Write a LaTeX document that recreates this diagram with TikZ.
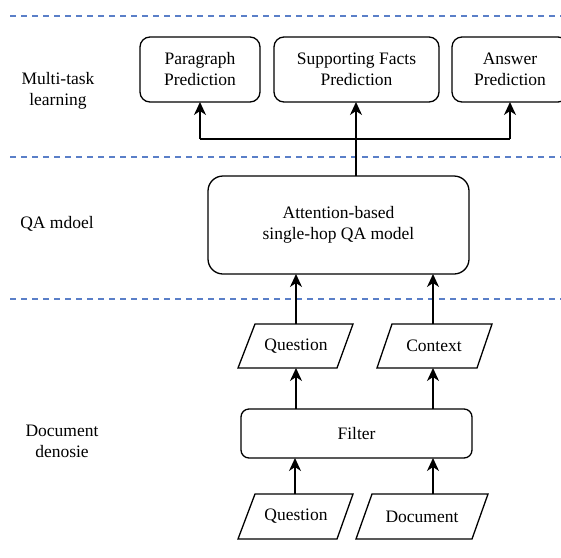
\documentclass[tikz,border=0pt]{standalone}
\usepackage{fontspec}
\setmainfont{Liberation Serif}
\usetikzlibrary{arrows.meta}
\definecolor{sepblue}{HTML}{5A7FC8}
\begin{document}
\begin{tikzpicture}[x=1pt,y=-1pt,
  every node/.style={font=\fontsize{17.5}{21}\selectfont, align=center, inner sep=0pt},
  sep/.style={draw=sepblue, line width=1.4pt, dash pattern=on 6pt off 5pt},
  rbox/.style={draw, line width=1.3pt, rounded corners=#1},
  para/.style={draw, line width=1.3pt},
  conn/.style={line width=1.5pt, -{Stealth[length=13pt,width=12pt,inset=4pt]}},
  wire/.style={line width=1.5pt}]
\useasboundingbox (0,0) rectangle (561,557);
\clip (0,0) rectangle (561,557);
% separators
\coordinate (s1a) at (10,16);  \coordinate (s1b) at (561,16);
\coordinate (s2a) at (10,157); \coordinate (s2b) at (561,157);
\coordinate (s3a) at (10,299); \coordinate (s3b) at (561,299);
\draw[sep] (s1a) -- (s1b);
\draw[sep] (s2a) -- (s2b);
\draw[sep] (s3a) -- (s3b);
% layer labels
\node (lab1) at (58,91) {Multi-task\\learning};
\node (lab2) at (57,224) {QA mdoel};
\node (lab3) at (62,441) {Document\\denosie};
% top boxes
\draw[rbox=10pt] (140,37) rectangle (260,102);
\node (pp) at (200,69.5) {Paragraph\\Prediction};
\draw[rbox=10pt] (274,37) rectangle (439,102);
\node (sf) at (356.5,69.5) {Supporting Facts\\Prediction};
\draw[rbox=10pt] (452,37) rectangle (568,102);
\node (ap) at (510,69.5) {Answer\\Prediction};
\coordinate (ppb) at (200,102);
\coordinate (sfb) at (356,102);
\coordinate (apb) at (510,102);
\coordinate (jl) at (200,139);
\coordinate (jm) at (356,139);
\coordinate (jr) at (510,139);
% QA box
\draw[rbox=15pt] (208,176) rectangle (469,274);
\node (qa) at (338.5,225) {Attention-based\\single-hop QA model};
\coordinate (qat) at (356,176);
\coordinate (qab1) at (296,274);
\coordinate (qab2) at (433,274);
% Question / Context
\draw[para] (238,368) -- (255,324) -- (353,324) -- (337,368) -- cycle;
\node (q1) at (296,346) {Question};
\coordinate (q1t) at (296,324);
\coordinate (q1b) at (296,368);
\draw[para] (377,368) -- (392,324) -- (492,324) -- (477,368) -- cycle;
\node (ctx) at (434,346) {Context};
\coordinate (ctxt) at (433,324);
\coordinate (ctxb) at (433,368);
% Filter
\draw[rbox=8pt] (241,409) rectangle (472,458);
\node (flt) at (356.5,433.5) {Filter};
\coordinate (ft1) at (296,409);
\coordinate (ft2) at (433,409);
\coordinate (fb1) at (295,458);
\coordinate (fb2) at (433,458);
% inputs
\draw[para] (238,539) -- (255,494) -- (353,494) -- (337,539) -- cycle;
\node (q2) at (296,516.5) {Question};
\coordinate (q2t) at (295,494);
\draw[para] (356,539) -- (372,494) -- (488,494) -- (472,539) -- cycle;
\node (doc) at (422,516.5) {Document};
\coordinate (doct) at (433,494);
% connectors
\draw[conn] (q2t) -- (fb1);
\draw[conn] (doct) -- (fb2);
\draw[conn] (ft1) -- (q1b);
\draw[conn] (ft2) -- (ctxb);
\draw[conn] (q1t) -- (qab1);
\draw[conn] (ctxt) -- (qab2);
\draw[conn] (qat) -- (sfb);
\draw[wire] (jl) -- (jr);
\draw[conn] (jl) -- (ppb);
\draw[conn] (jr) -- (apb);
\end{tikzpicture}
\end{document}
